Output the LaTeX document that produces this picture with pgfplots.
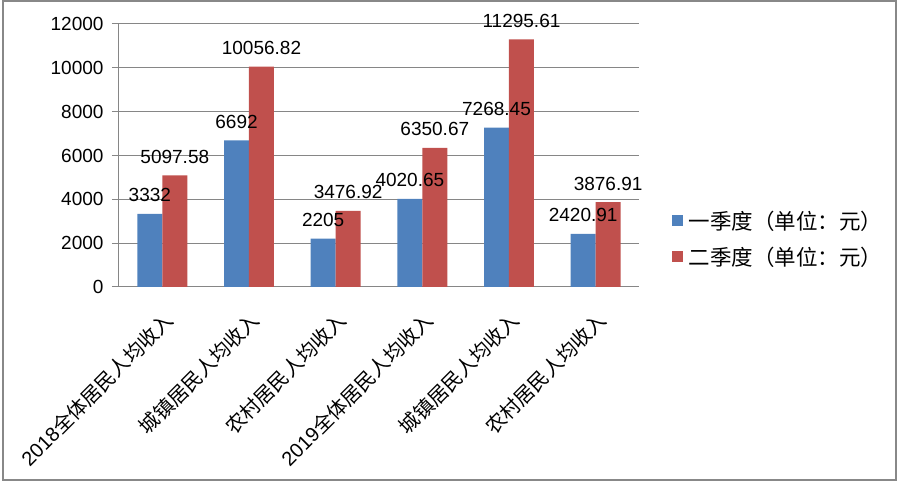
\documentclass[border=0pt]{standalone}
\usepackage{pgfplots}
\pgfplotsset{compat=1.18}
\usepackage{fontspec}
\setmainfont{Liberation Sans}
\newfontfamily\cjk{Noto Sans CJK SC}
\definecolor{qone}{HTML}{4F81BD}
\definecolor{qtwo}{HTML}{C0504D}
\definecolor{gridc}{HTML}{868686}
\definecolor{framec}{HTML}{888888}
\newcommand{\yr}[1]{{\fontsize{20}{20}\selectfont #1}}
\begin{document}
\begin{tikzpicture}
\useasboundingbox (0,0) rectangle (898pt,481pt);
\draw[framec, line width=2pt] (3pt,1pt) rectangle (896pt,480pt);
\begin{axis}[
  at={(119pt,194pt)}, anchor=south west,
  scale only axis, width=520pt, height=263pt,
  ybar=0pt, bar width=0.288,
  xmin=-0.5, xmax=5.5, ymin=0, ymax=12000,
  ytick distance=2000, scaled y ticks=false,
  axis x line*=bottom, axis y line*=left,
  axis line style={gridc, line width=1pt},
  ymajorgrids, grid style={gridc, line width=1pt},
  tick align=outside, major tick length=7pt,
  tick style={gridc, line width=1pt},
  xtick={0,...,5}, x tick style={draw=none},
  xticklabels={{\yr{2018}\cjk 全体居民人均收入},{\cjk 城镇居民人均收入},{\cjk 农村居民人均收入},
               {\yr{2019}\cjk 全体居民人均收入},{\cjk 城镇居民人均收入},{\cjk 农村居民人均收入}},
  xticklabel style={rotate=45, anchor=east, font=\fontsize{20}{21}\selectfont, xshift=-8pt, yshift=-21pt},
  extra x ticks={-0.5,0.5,1.5,2.5,3.5,4.5,5.5},
  extra x tick labels={},
  extra x tick style={grid=none, major tick length=6pt, tick style={gridc, line width=1pt}},
  yticklabel style={font=\fontsize{19}{20}\selectfont, xshift=-5pt},
  /pgf/number format/assume math mode=true,
  /pgf/number format/1000 sep={},
  point meta=explicit symbolic,
  nodes near coords,
  nodes near coords style={font=\fontsize{19}{20}\selectfont, anchor=base, yshift=12pt, text=black},
  legend style={at={(1.063,0.183)}, anchor=west, draw=none, fill=none,
    font=\cjk\fontsize{21.5}{23}\selectfont, row sep=12pt,
    legend cell align=left, inner sep=0pt,
    nodes={inner xsep=6pt}},
  legend image code/.code={\fill[#1] (0pt,-5.5pt) rectangle (11pt,5.5pt);},
]
\addplot[draw=none, fill=qone] coordinates {
  (0,3332) [3332] (1,6692) [6692] (2,2205) [2205]
  (3,4020.65) [4020.65] (4,7268.45) [7268.45] (5,2420.91) [2420.91]
};
\addplot[draw=none, fill=qtwo] coordinates {
  (0,5097.58) [5097.58] (1,10056.82) [10056.82] (2,3476.92) [3476.92]
  (3,6350.67) [6350.67] (4,11295.61) [11295.61] (5,3876.91) [3876.91]
};
\legend{一季度（单位：元）, 二季度（单位：元）}
\end{axis}
\end{tikzpicture}
\end{document}
